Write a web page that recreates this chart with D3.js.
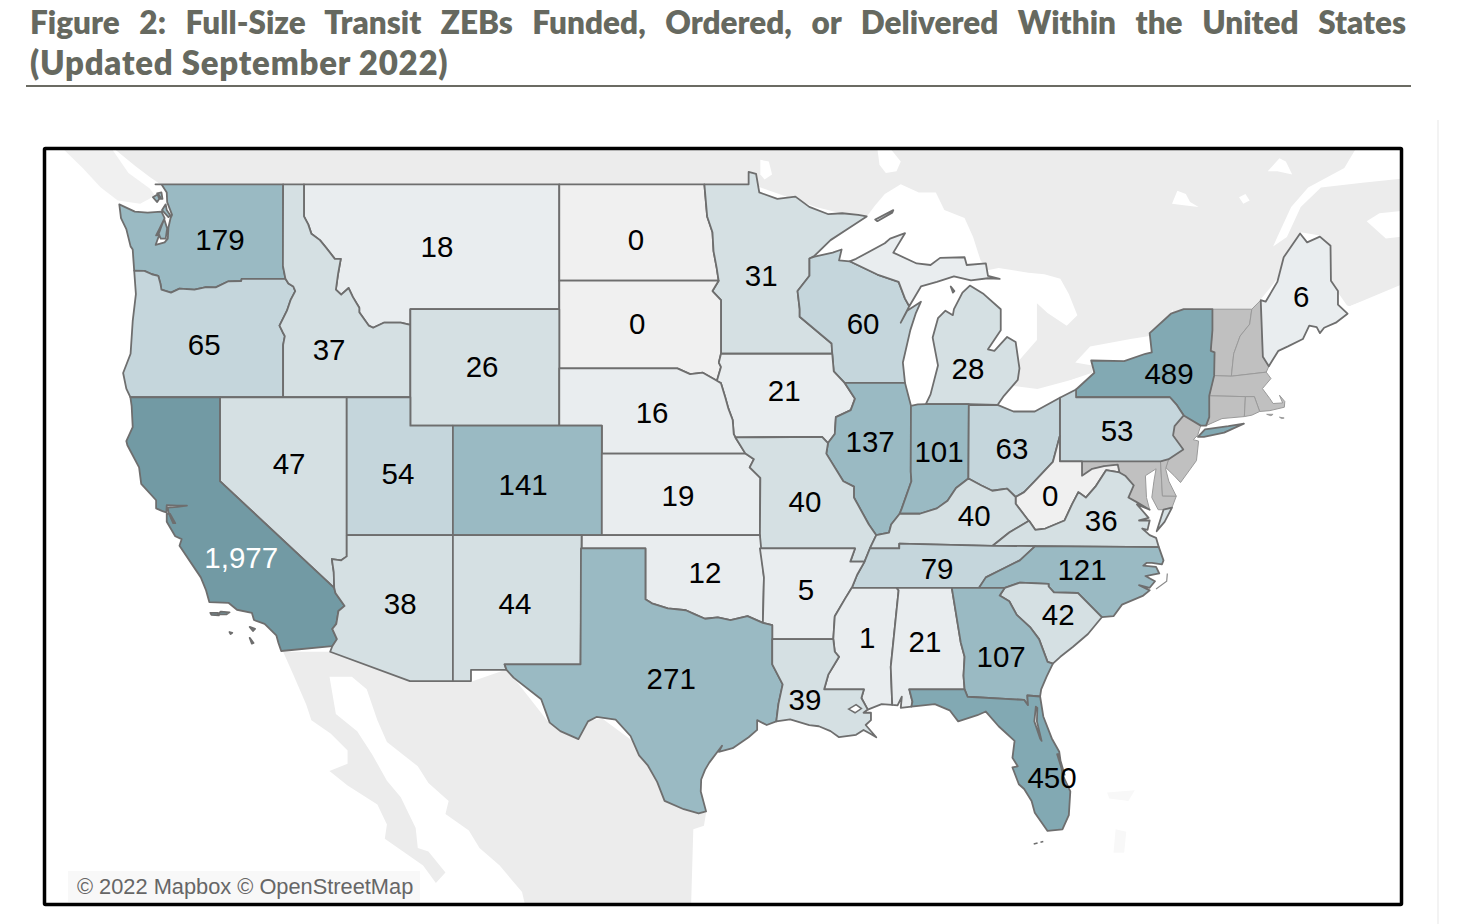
<!DOCTYPE html>
<html><head><meta charset="utf-8">
<script src="https://cdnjs.cloudflare.com/ajax/libs/d3/7.8.5/d3.min.js"></script>
<style>
html,body{margin:0;padding:0;background:#fff;width:1458px;height:924px;overflow:hidden}
#title{position:absolute;left:30px;top:2px;width:1376px;font:800 33px/40px Lato,sans-serif;color:#666960;letter-spacing:.75px}
#title div:first-child{text-align:justify;text-align-last:justify;font-size:31.5px;letter-spacing:0}
svg{position:absolute;left:0;top:0}
</style></head><body>
<div id="title"><div>Figure 2: Full-Size Transit ZEBs Funded, Ordered, or Delivered Within the United States</div><div>(Updated September 2022)</div></div>
<svg id="map" width="1458" height="924"></svg>
<script>
// ---------- values ----------
const stateCodes  = ["WA","MT","ND","MN","WI","ME","OR","ID","SD","WY","MI","NY","IA","NE","PA","IL","IN","OH","NV","UT","CO","KS","WV","MO","KY","VA","CA","OK","TN","NC","AR","AZ","NM","SC","MS","AL","GA","TX","LA","FL"];
const stateValues = [179,18,0,31,60,6,65,37,0,26,28,489,21,16,53,137,101,63,47,54,141,19,0,40,40,36,1977,12,79,121,5,38,44,42,1,21,107,271,39,450];
const labelLon = [-120.0,-109.8,-100.44,-94.56,-89.77,-69.18,-120.74,-114.87,-100.39,-107.68,-84.84,-75.39,-93.48,-99.69,-77.83,-89.44,-86.2,-82.77,-116.75,-111.63,-105.75,-98.47,-80.98,-92.5,-84.55,-78.58,-119.0,-97.2,-86.29,-79.48,-92.45,-111.53,-106.13,-80.6,-89.58,-86.86,-83.28,-98.79,-92.5,-80.89];
const labelLat = [47.28,47.06,47.28,46.12,44.53,45.43,43.8,43.63,44.53,43.08,43.01,42.84,42.24,41.48,40.81,40.45,40.06,40.2,39.66,39.29,38.89,38.49,38.49,38.27,37.72,37.56,36.17,35.57,35.75,35.72,34.92,34.41,34.41,33.95,33.08,32.92,32.32,31.45,30.6,27.4];
const noDataStates = ["VT","NH","MA","CT","RI","NJ","MD","DE"];
const valueBreaks = [1,25,50,100,400,1000];
const valueColors = ["#f0f0f0","#e9edef","#d5e0e3","#c5d6dc","#9abac3","#82a9b3","#729aa4"];
const attribution = "© 2022 Mapbox © OpenStreetMap";

// ---------- shared boundaries, lon/lat ----------
const rev = a => a.slice().reverse();
const columbia=[[-124.03,46.27],[-123.55,46.26],[-123.2,46.15],[-122.9,46.1],[-122.8,45.85],[-122.75,45.65],[-122.3,45.55],[-121.9,45.68],[-121.2,45.65],[-120.65,45.73],[-120.2,45.72],[-119.6,45.92],[-119,45.93],[-118.98,46],[-116.92,46]];
const snake=[[-116.92,46],[-116.78,45.85],[-116.55,45.75],[-116.46,45.6],[-116.67,45.32],[-116.85,44.95],[-117.2,44.45],[-117.05,44.23],[-116.95,44.1],[-117.03,43.8],[-117.03,42]];
const bitterroot=[[-116.05,48],[-115.85,47.75],[-115.7,47.45],[-115.3,47.25],[-115,47],[-114.6,46.65],[-114.32,46.65],[-114.45,46.15],[-114.55,45.65],[-114.3,45.48],[-113.95,45.7],[-113.75,45.4],[-113.45,45.05],[-113.45,44.9],[-113,44.45],[-112.8,44.38],[-112.3,44.55],[-111.5,44.55],[-111.05,44.48]];
const coloradoNV=[[-114.04,36.2],[-114.3,36.05],[-114.74,36.1],[-114.65,35.6],[-114.63,35]];
const coloradoCA=[[-114.63,35],[-114.57,34.8],[-114.14,34.3],[-114.43,34.1],[-114.53,33.6],[-114.72,33.4],[-114.5,33],[-114.72,32.72]];
const redRiver=[[-100,34.56],[-99.7,34.4],[-98.95,34.2],[-98.1,34.13],[-97.7,33.98],[-97.2,33.8],[-96.6,33.85],[-96,33.75],[-95.2,33.9],[-94.48,33.64]];
const sabine=[[-94.04,32],[-93.55,31.2],[-93.75,30.4],[-93.85,29.7]];
const ndMN=[[-96.56,45.94],[-96.65,46.35],[-96.8,46.9],[-96.85,47.5],[-97.1,48],[-97.23,49]];
const sdMN=[[-96.45,43.5],[-96.45,45.3],[-96.85,45.6],[-96.56,45.94]];
const sdIA=[[-96.45,42.49],[-96.65,42.55],[-96.45,43.05],[-96.55,43.2],[-96.45,43.5]];
const sdNE=[[-104.05,43],[-98.5,43],[-97.9,42.8],[-97.3,42.85],[-96.7,42.6],[-96.45,42.49]];
const neIA=[[-96.45,42.49],[-96.25,42],[-96.1,41.6],[-95.9,41.2],[-95.85,40.7],[-95.77,40.58]];
const neMO=[[-95.77,40.58],[-95.3,40]];
const ksMO=[[-95.3,40],[-94.9,39.8],[-95.1,39.5],[-94.6,39.12],[-94.62,37]];
const stCroix=[[-92.29,46.66],[-92.29,46.1],[-92.85,45.6],[-92.75,45],[-92.75,44.75],[-91.25,43.85],[-91.22,43.5]];
const iaWI=[[-91.22,43.5],[-91.15,42.9],[-90.64,42.5]];
const iaIL=[[-90.64,42.5],[-90.15,41.95],[-90.35,41.55],[-91.05,41.3],[-91.1,40.7],[-91.42,40.38]];
const moIL=[[-91.42,40.38],[-91.5,40],[-90.7,39],[-90.2,38.8],[-90.2,38.4],[-89.5,37.4],[-89.15,37]];
const kyMO=[[-89.15,37],[-89.45,36.5]];
const tnMO=[[-89.45,36.5],[-89.7,36]];
const tnAR=[[-89.7,36],[-90.05,35.5],[-90.3,35]];
const msAR=[[-90.3,35],[-90.6,34.6],[-91.1,33.9],[-91.17,33]];
const msLA=[[-91.17,33],[-91.1,32.5],[-90.9,32.3],[-91.4,31.6],[-91.6,31]];
const ilKY=[[-89.15,37],[-88.55,37.1],[-88.45,37.4],[-88.05,37.8]];
const inKY=[[-88.05,37.8],[-87.1,37.8],[-86.3,38],[-85.8,38.28],[-85.4,38.75],[-84.82,39.1]];
const ohKY=[[-84.82,39.1],[-84.23,38.85],[-83.7,38.65],[-83,38.73],[-82.6,38.42]];
const ohWV=[[-82.6,38.42],[-82.2,38.6],[-81.7,39],[-80.85,39.7],[-80.52,40.64]];
const wabash=[[-88.05,37.8],[-87.95,38],[-87.5,39],[-87.53,39.35],[-87.52,41.7]];
const wiMI=[[-90.4,46.57],[-89.1,46.14],[-88.1,45.9],[-87.8,45.35],[-87.6,45.1]];
const kyVA=[[-81.97,37.54],[-82.9,37.1],[-83.68,36.6]];
const kyWV=[[-82.6,38.42],[-82.6,38.17],[-82,37.55],[-81.97,37.54]];
const wvVA=[[-81.97,37.54],[-81.68,37.2],[-81.2,37.25],[-80.3,37.55],[-79.95,38.15],[-79.65,38.6],[-79.3,38.4],[-78.85,38.8],[-78.35,39.4],[-77.72,39.32]];
const wvMD=[[-79.48,39.72],[-79.48,39.2],[-79,39.45],[-78.45,39.55],[-77.8,39.6],[-77.72,39.32]];
const vaMD=[[-77.72,39.32],[-77.45,39.2],[-77.05,38.85],[-77.3,38.4],[-76.95,38.25],[-76.3,37.95]];
const tnNC=[[-84.32,35],[-84,35.4],[-83.1,35.77],[-82.4,36.05],[-81.68,36.59]];
const tnKY=[[-83.68,36.6],[-88.07,36.68],[-88.07,36.5],[-89.45,36.5]];
const ncSC=[[-83.11,35],[-82.4,35.2],[-81.05,35.15],[-81.05,35.05],[-80.8,34.82],[-79.68,34.8],[-78.55,33.86]];
const savannah=[[-83.11,35],[-83.35,34.7],[-82.9,34.48],[-82.55,33.95],[-81.9,33.45],[-81.5,33],[-81.1,32.1],[-80.85,32.03]];
const alGA=[[-85.6,35],[-85.18,32.87],[-85,32.3],[-85.05,31.55],[-85,31]];
const gaFL=[[-85,31],[-84.86,30.7],[-82.2,30.57],[-82.02,30.36],[-82.05,30.75],[-81.45,30.71]];
const paNY=[[-79.76,42],[-75.35,42],[-75.05,41.75],[-74.7,41.36]];
const paNJ=[[-74.7,41.36],[-75.13,40.98],[-75.2,40.65],[-74.72,40.15],[-75.41,39.8]];
const nyNE=[[-73.35,45],[-73.35,44.3],[-73.43,43.6],[-73.25,43.55],[-73.27,42.75],[-73.5,42.05],[-73.5,41.3],[-73.65,41]];
const vtNH=[[-71.5,45],[-71.6,44.5],[-72.05,44.1],[-72.35,43.5],[-72.46,42.73]];

// ---------- state outlines (rings of lon/lat) ----------
const outlines={
WA:[[[-123.03,49],[-117.03,49],[-117.04,46.42],[-116.92,46],...rev(columbia),[-124.07,46.65],[-124.1,46.95],[-124.2,47.05],[-124.4,47.6],[-124.65,47.95],[-124.73,48.38],[-124,48.15],[-123.4,48.12],[-122.75,48.15],[-122.6,47.95],[-122.85,47.6],[-123,47.4],[-122.85,47.42],[-123.02,47.1],[-122.6,47.18],[-122.45,47.3],[-122.42,47.65],[-122.32,47.95],[-122.25,48.05],[-122.48,48.45],[-122.5,48.75],[-122.75,49]],
 [[-122.62,47.92],[-122.8,47.6],[-122.88,47.45],[-122.78,47.3],[-122.55,47.3],[-122.48,47.62]],
 [[-122.55,48.38],[-122.72,48.2],[-122.42,47.98],[-122.33,48.03],[-122.5,48.2]],
 [[-123.15,48.6],[-122.9,48.7],[-122.8,48.6],[-122.95,48.45]],
 [[-122.95,48.72],[-122.75,48.75],[-122.7,48.55],[-122.85,48.55]]],
OR:[[...columbia,...snake,[-124.21,42],[-124.4,42.3],[-124.55,42.84],[-124.2,43.5],[-124.1,44.6],[-123.95,45.5]]],
CA:[[[-124.21,42],[-120,42],[-120,39],...coloradoCA,[-117.12,32.53],[-117.25,32.85],[-117.35,33.15],[-117.9,33.6],[-118.4,33.75],[-118.5,34.03],[-119.2,34.15],[-119.6,34.42],[-120.5,34.45],[-120.65,34.9],[-120.9,35.4],[-121.9,36.6],[-121.8,36.85],[-122.1,36.96],[-122.5,37.5],[-122.5,37.8],[-122.35,37.8],[-122.1,37.45],[-122.2,37.45],[-122.42,37.85],[-122.45,38.03],[-122,38.06],[-121.55,38.1],[-122,38.1],[-122.5,38.12],[-122.52,37.85],[-122.7,37.9],[-123,38],[-123,38.3],[-123.7,38.9],[-123.8,39.5],[-124.35,40.3],[-124.4,40.45],[-124.1,40.95],[-124.15,41.7]],
 [[-119.95,34.08],[-119.55,34.05],[-119.7,33.97],[-120.1,33.98]],
 [[-120.45,34.03],[-120.1,34.03],[-120.05,33.93],[-120.4,33.95]],
 [[-118.6,33.48],[-118.35,33.4],[-118.45,33.32]],
 [[-118.6,33.05],[-118.42,32.85],[-118.5,32.82]],
 [[-119.55,33.28],[-119.42,33.25],[-119.5,33.2]]],
NV:[[[-120,42],[-114.04,42],...coloradoNV,[-120,39]]],
ID:[[[-117.03,49],[-116.05,49],...bitterroot,[-111.05,42],...rev(snake),[-117.04,46.42]]],
MT:[[[-116.05,49],[-104.05,49],[-104.05,45],[-111.05,45],...rev(bitterroot)]],
WY:[[[-111.05,45],[-104.05,45],[-104.05,41],[-111.05,41]]],
UT:[[[-114.04,42],[-111.05,42],[-111.05,41],[-109.05,41],[-109.05,37],[-114.04,37]]],
CO:[[[-109.05,41],[-102.05,41],[-102.05,37],[-109.05,37]]],
AZ:[[[-114.04,37],[-109.05,37],[-109.05,31.33],[-111.07,31.33],[-114.82,32.5],[-114.72,32.72],...rev(coloradoCA),...rev(coloradoNV)]],
NM:[[[-109.05,37],[-103,37],[-103.05,32],[-106.62,32],[-106.53,31.78],[-108.2,31.78],[-108.2,31.33],[-109.05,31.33]]],
ND:[[[-104.05,49],[-97.23,49],...rev(ndMN),[-104.05,45.94]]],
SD:[[[-104.05,45.94],[-96.56,45.94],...rev(sdMN),...rev(sdIA),...rev(sdNE)]],
NE:[[...sdNE,...neIA,...neMO,[-102.05,40],[-102.05,41],[-104.05,41]]],
KS:[[[-102.05,40],...ksMO,[-102.05,37]]],
OK:[[[-103,37],[-94.62,37],[-94.43,35.4],[-94.48,33.64],...rev(redRiver),[-100,36.5],[-103,36.5]]],
TX:[[[-103.03,36.5],[-100,36.5],...redRiver,[-94.04,33.55],[-94.04,33],...sabine,[-94.3,29.55],[-94.75,29.75],[-94.75,29.35],[-95.15,29.05],[-95.9,28.6],[-96.55,28.45],[-96.4,28.7],[-97,28],[-97.2,27.7],[-97.38,27.3],[-97.4,26.8],[-97.15,25.96],[-97.5,25.87],[-98.2,26.05],[-99.1,26.4],[-99.45,27.2],[-99.9,27.9],[-100.3,28.3],[-100.7,29.1],[-101.4,29.77],[-102.3,29.88],[-102.7,29.7],[-103.15,28.97],[-104,29.3],[-104.5,29.65],[-104.9,30.6],[-106.2,31.47],[-106.53,31.78],[-106.62,32],[-103.05,32]]],
MN:[[[-97.23,49],[-95.15,49],[-95.15,49.38],[-94.8,49.32],[-94.65,48.75],[-93.8,48.55],[-92.95,48.62],[-92.3,48.3],[-91.4,48.07],[-90.75,48.1],[-90,48.05],[-89.6,48],[-90.5,47.6],[-91.3,47.25],[-92.05,46.75],[-92.29,46.66],...stCroix.slice(1),[-96.45,43.5],...sdMN,...ndMN]],
WI:[[[-92.29,46.66],[-92.05,46.72],[-91.2,46.85],[-90.78,46.95],[-90.9,46.6],...wiMI,[-88,44.55],[-87.7,44.95],[-87.05,45.25],[-87.3,44.85],[-87.55,44.3],[-87.9,43.2],[-87.8,42.5],...rev(iaWI),...rev(stCroix)]],
IA:[[[-96.45,43.5],[-91.22,43.5],...iaWI.slice(1),...iaIL.slice(1),[-91.7,40.6],[-95.77,40.58],...rev(neIA).slice(1),...sdIA.slice(1,4)]],
MO:[[...neMO,...ksMO,[-94.62,36.5],[-90.15,36.5],[-90.37,36],[-89.7,36],...rev(tnMO).slice(1),...rev(kyMO).slice(1),...rev(moIL).slice(1),[-91.7,40.6]]],
AR:[[[-94.62,36.5],[-90.15,36.5],[-90.37,36],...tnAR,...msAR.slice(1),[-94.04,33],[-94.04,33.55],[-94.48,33.64],[-94.43,35.4]]],
LA:[[[-94.04,33],...msLA,[-89.73,31],[-89.85,30.65],[-89.55,30.18],[-89.75,30.05],[-89.4,30.05],[-89.4,29.75],[-89.65,29.55],[-89.15,29.05],[-89.45,29.2],[-89.75,29.35],[-90.1,29.15],[-90.9,29.05],[-91.3,29.3],[-91.85,29.5],[-92.3,29.55],[-93.2,29.78],[-93.85,29.7],...rev(sabine)]],
MS:[[...tnAR.slice(2),[-88.2,35],[-88.1,34.9],[-88.47,31.9],[-88.4,30.37],[-88.9,30.4],[-89.55,30.18],[-89.85,30.65],[-89.73,31],[-91.6,31],...rev(msLA).slice(1),...rev(msAR).slice(1)]],
AL:[[[-88.2,35],...alGA,[-87.6,31],[-87.45,30.5],[-87.5,30.3],[-88,30.25],[-87.95,30.7],[-88.15,30.35],[-88.4,30.37],[-88.47,31.9],[-88.1,34.9]]],
GA:[[...alGA,...gaFL,[-81.4,31],[-81.15,31.5],[-80.85,32.03],...rev(savannah).slice(1)]],
FL:[[[-87.6,31],...gaFL,[-81.3,29.9],[-80.9,29],[-80.55,28.45],[-80.4,27.5],[-80.03,26.8],[-80.1,25.8],[-80.4,25.2],[-81.1,25.13],[-81.7,25.9],[-81.85,26.4],[-82.2,26.9],[-82.45,27.1],[-82.75,27.8],[-82.5,27.85],[-82.75,28.2],[-82.65,28.9],[-83.4,29.5],[-84,30.1],[-84.4,29.95],[-85.3,29.7],[-85.7,30.15],[-86.4,30.4],[-87.5,30.3],[-87.45,30.5]],
 [[-81.65,30.3],[-81.72,29.7],[-81.45,29],[-81.38,28.9],[-81.6,29.7],[-81.58,30.25]],
 [[-80.65,28.35],[-80.35,27.5],[-80.3,27.5],[-80.58,28.35]]],
IL:[[[-90.64,42.5],[-87.8,42.5],[-87.52,41.7],...rev(wabash).slice(1),...rev(ilKY).slice(1),...rev(moIL).slice(1),...rev(iaIL).slice(1)]],
IN:[[[-87.52,41.7],[-87.2,41.75],[-86.82,41.76],[-84.8,41.76],...rev(inKY),...wabash.slice(1)]],
OH:[[[-84.8,41.72],[-83.45,41.73],[-82.7,41.5],[-81.7,41.5],[-80.52,41.98],...rev(ohWV),...rev(ohKY)]],
KY:[[...ilKY,...inKY.slice(1),...ohKY.slice(1),...kyWV.slice(1),...kyVA.slice(1),...tnKY.slice(1)]],
WV:[[...wvMD,...rev(wvVA).slice(1),...rev(kyWV).slice(1),...ohWV.slice(1),[-80.52,39.72]]],
TN:[[...tnNC,[-83.68,36.6],...tnKY.slice(1),...tnMO.slice(1),...tnAR.slice(1),[-88.2,35]]],
NC:[[...tnNC,[-75.87,36.55],[-75.65,36.05],[-75.72,35.9],[-76.2,35.95],[-76.45,35.95],[-76.6,35.85],[-76,35.8],[-75.85,35.55],[-76.5,35.45],[-76.05,35.25],[-76.3,35],[-76.8,35.1],[-76.3,34.9],[-76.6,34.7],[-77.6,34.35],[-78,33.9],...rev(ncSC)]],
SC:[[...ncSC,[-79.2,33.2],[-79.9,32.7],[-80.5,32.3],...rev(savannah)]],
VA:[[...kyVA,[-81.68,36.59],[-75.87,36.55],[-76,36.9],[-76.3,37],[-76.65,37.25],[-76.4,37.2],[-76.3,37.55],[-76.8,37.55],[-76.35,37.65],[-76.9,38.15],[-76.3,37.95],...rev(vaMD).slice(1),...rev(wvVA).slice(1)],
 [[-75.97,37.15],[-75.65,37.95],[-75.25,38.03],[-75.6,37.5]]],
PA:[[[-80.52,41.98],[-79.76,42.27],...paNY,...paNJ.slice(1),[-75.79,39.72],[-80.52,39.72]]],
NY:[[...rev(paNY),[-79.76,42.27],[-78.9,42.85],[-79.05,43.27],[-77.5,43.25],[-76.5,43.5],[-76.2,43.55],[-76.3,44.2],[-75.3,44.85],[-74.7,45],...nyNE,[-73.9,41]],
 [[-74.03,40.6],[-73.75,40.6],[-72.8,40.75],[-71.87,41.07],[-72.6,40.98],[-73.7,40.87]]],
ME:[[[-71.08,45.3],[-70.85,45.25],[-70.3,45.9],[-70,46.7],[-69.23,47.46],[-68.9,47.18],[-68.3,47.36],[-67.8,47.07],[-67.78,45.94],[-67.45,45.6],[-67.45,45.15],[-67,44.85],[-67.55,44.55],[-68.1,44.38],[-68.3,44.2],[-68.45,44.4],[-68.8,44.45],[-69.1,44],[-69.8,43.75],[-70.25,43.6],[-70.55,43.25],[-70.7,43.07],[-70.98,43.4]]],
MI:[[[-86.82,41.76],[-84.8,41.76],[-83.45,41.73],[-83.15,42.05],[-82.5,42.6],[-82.42,43],[-82.6,43.9],[-83,44.07],[-83.6,43.6],[-83.9,43.65],[-83.3,44.3],[-83.3,45],[-84.1,45.5],[-84.75,45.78],[-85.1,45.55],[-85.5,45],[-85.55,44.8],[-85.9,44.95],[-86.25,44.7],[-86.5,44.05],[-86.25,43.1],[-86.6,42.1]],
 [[-85.65,45.75],[-85.48,45.6],[-85.55,45.55]]],
VT:[[[-73.35,45],...vtNH,[-73.27,42.75],[-73.25,43.55],[-73.43,43.6],[-73.35,44.3]]],
NH:[[...vtNH,[-70.82,42.87],[-70.7,43.07],[-70.98,43.4],[-71.08,45.3]]],
MA:[[[-73.5,42.05],[-73.27,42.75],[-72.46,42.73],[-70.82,42.87],[-70.6,42.65],[-71,42.3],[-70.65,41.95],[-70.5,41.78],[-70.05,41.8],[-70.2,42.07],[-69.95,41.85],[-69.97,41.65],[-70.65,41.53],[-71.13,41.5],[-71.38,42.02],[-71.8,42.02]],
 [[-70.8,41.4],[-70.5,41.4],[-70.6,41.35]],
 [[-70.2,41.3],[-69.98,41.27],[-70.1,41.25]]],
CT:[[[-73.5,42.05],[-71.8,42.02],[-71.85,41.32],[-72.9,41.25],[-73.65,41],[-73.5,41.3]]],
RI:[[[-71.8,42.02],[-71.38,42.02],[-71.13,41.5],[-71.5,41.37],[-71.85,41.32]]],
NJ:[[[-74.7,41.36],[-73.9,41],[-74.05,40.65],[-74.25,40.5],[-74,40.45],[-74.1,39.75],[-74.85,38.95],[-75.15,39.2],[-75.55,39.5],[-75.41,39.8],...rev(paNJ).slice(1)]],
MD:[[[-79.48,39.72],[-75.79,39.72],[-75.7,38.46],[-75.05,38.45],[-75.25,38.03],[-75.65,37.95],[-75.9,37.95],[-76.2,38.4],[-76.1,39],[-76,39.45],[-76.5,39.2],[-76.45,38.4],...rev(vaMD),...rev(wvMD).slice(1)]],
DE:[[[-75.79,39.72],[-75.41,39.8],[-75.55,39.45],[-75.4,39],[-75.05,38.45],[-75.7,38.46]]]
};
// Michigan's Upper Peninsula is tinted paler than the rest of the state in the source
const upperPeninsula=[[...wiMI,[-87.05,45.75],[-86.3,45.9],[-85.5,46.08],[-84.7,45.95],[-83.9,46.02],[-83.35,46],[-83.9,46.1],[-84,46.5],[-84.9,46.45],[-85,46.7],[-86.15,46.68],[-86.6,46.45],[-87.25,46.5],[-88.35,46.85],[-87.8,47.47],[-88.5,47.3],[-88.75,47.15],[-90.1,46.65]],[[-89.2,47.9],[-88.35,48.2],[-88.4,48.12],[-89.1,47.85]]];

// ---------- background land and water ----------
const canada=[[-125.2,51],[-124.9,50.05],[-123.95,49.55],[-123.25,49.2],[-122.8,49],[-95,49],[-92,48.3],[-89,47.8],[-84.5,46.4],[-82.5,43],[-83,42],[-79,42.8],[-79,43.3],[-76.3,44],[-74.7,45],[-71.5,45],[-71,45.4],[-70.3,46],[-70,46.7],[-69.2,47.5],[-68.3,47.4],[-67.8,47],[-67.8,45.9],[-67.4,45.2],[-66.9,45.1],[-64.2,45.8],[-64.2,51]];
const vancouverIsland=[[-127.4,50.1],[-126.45,49.5],[-125.6,48.9],[-124.8,48.5],[-123.75,48.4],[-123.05,48.65],[-123.3,48.87],[-124.3,49.35],[-125.1,50.1]];
const novaScotia=[[-64.2,45.2],[-65.8,44.65],[-66.15,44],[-65.55,43.45],[-64.2,44.05]];
const mexico=[[-117.03,32.5],[-116.56,31.6],[-115.95,30.4],[-115.7,29.75],[-114.8,29.2],[-114,28.5],[-114,27.95],[-114.85,27.65],[-114,27.05],[-112.6,26.25],[-112.15,25.4],[-112.25,24.8],[-110.45,23.65],[-109.85,22.9],[-109.4,23.35],[-110.2,24.25],[-110.7,24.4],[-110.8,25.25],[-111.5,26.55],[-112.15,27.25],[-112.85,28.35],[-113.55,29.3],[-114.55,30],[-114.85,31.5],[-113.8,31.5],[-113.1,31],[-112.6,29.75],[-112.15,28.85],[-110.7,27.85],[-110.2,27.15],[-109.25,26.4],[-109.4,25.85],[-108.3,25.15],[-107.8,24.4],[-106.85,23.65],[-105.8,22.5],[-105.65,21.9],[-105.6,21],[-97.8,21],[-97.85,22.05],[-97.75,25.2],[-97.25,25.35],[-97.15,25.9],[-97.5,25.9],[-99,26.4],[-100,28.5],[-102,29.8],[-104.5,29.6],[-106.5,31.8],[-108.2,31.3],[-111,31.3],[-114.8,32.5]];
const waterBodies=[
 [[-92.2,46.6],[-92,46.9],[-90.5,47.6],[-89.6,48],[-89.2,48.35],[-88.75,48.7],[-88,49],[-87.15,48.75],[-86.35,48.75],[-85.95,48.2],[-85,47.95],[-84.6,47.35],[-84.25,46.6],[-83.8,46.2],[-84.5,46.3],[-87,46.3],[-90,46.3]],
 [[-84.5,46.2],[-83.4,46.35],[-82,46.2],[-81.25,46.15],[-80.5,46],[-80.1,45.5],[-79.7,44.8],[-80.2,44.45],[-81.1,44.87],[-81.6,45.2],[-81.6,43.97],[-82.4,43.3],[-82.4,42.85],[-83,43],[-85,45.8]],
 [[-83.5,41.7],[-82.8,42.4],[-81.2,42.25],[-79.8,42.65],[-79,42.85],[-78.9,42.7],[-80.5,41.7],[-82.5,41.3]],
 [[-79.8,43.2],[-79.1,43.75],[-77.2,44],[-76.3,44.1],[-76,44.25],[-75.2,45],[-75.3,44.7],[-76.3,43.5],[-79,43.1]],
 [[-70.5,47.05],[-69.85,47.35],[-69.2,48.3],[-68.25,48.9],[-66.3,49.05],[-64,49.2],[-64,50.2],[-66.6,50.1],[-67.15,49.5],[-68.85,48.9],[-69.65,48.3],[-70.3,47.35]],
 [[-66.1,47.85],[-65.5,48.1],[-64,48.2],[-64,47.4],[-65.2,47.3]],
 [[-67.9,46],[-67,45.1],[-66.9,45.1],[-64,45.95],[-64,43],[-67,43]],
 [[-89.1,50.1],[-88.5,50.1],[-88,49.7],[-88.2,49.4],[-88.7,49.35],[-89,49.6]],
 [[-75.25,48.4],[-75,48.8],[-74.6,48.7],[-74.4,48.45],[-74,48.3],[-74.7,48.35]],
 [[-72.1,48.6],[-71.8,48.7],[-71.6,48.5],[-71.9,48.4]],
 [[-70.75,49.4],[-70.2,49.8],[-69.9,49.7],[-69.6,49.3],[-70.3,49.4]],
 [[-94.6,49.75],[-94.2,49.7],[-94.05,49.3],[-94.4,49.15],[-94.6,49.3]]];

// ---------- projection (Web Mercator, as the source basemap) ----------
const projection=d3.geoMercator().scale(1219).center([0,0]).translate([2773,1383.6]);
const planar=d3.geoTransform({point(x,y){const p=projection([x,y]);this.stream.point(p[0],p[1]);}});
const path=d3.geoPath(planar);
const closed=r=>{const a=r.slice();const f=a[0],l=a[a.length-1];if(f[0]!==l[0]||f[1]!==l[1])a.push(f);return a;};
const asGeo=rings=>({type:"MultiPolygon",coordinates:rings.map(r=>[closed(r)])});

const color=d3.scaleThreshold().domain(valueBreaks).range(valueColors);
const valueByState=new Map(stateCodes.map((c,i)=>[c,stateValues[i]]));
const svg=d3.select("#map");

// heading rule and neighbouring page edge
svg.append("line").attr("x1",26).attr("x2",1411).attr("y1",86).attr("y2",86).attr("stroke","#6b6b63").attr("stroke-width",1.8);
svg.append("line").attr("x1",1438).attr("x2",1438).attr("y1",120).attr("y2",924).attr("stroke","#efefef").attr("stroke-width",1.5);

svg.append("clipPath").attr("id","frameClip").append("rect").attr("x",45).attr("y",149).attr("width",1356).attr("height",755);
const map=svg.append("g").attr("clip-path","url(#frameClip)");
map.append("rect").attr("x",45).attr("y",149).attr("width",1356).attr("height",755).attr("fill","#fff");

map.selectAll("path.land").data([canada,mexico,novaScotia]).join("path").attr("class","land")
  .attr("d",r=>path(asGeo([r]))).attr("fill","#ececec");
map.append("path").attr("d",path(asGeo([vancouverIsland]))).attr("fill","#f0f0f0");
map.selectAll("path.water").data(waterBodies).join("path").attr("class","water")
  .attr("d",r=>path(asGeo([r]))).attr("fill","#fff");
// Bahamas and Cuba, barely visible in the source
map.selectAll("path.faint").data([[[-78.3,26.75],[-77,26.85],[-77.3,26.4],[-78.2,26.5]],[[-77.9,25.2],[-77.4,25.1],[-77.5,24.2],[-78,24.2]]]).join("path").attr("class","faint")
  .attr("d",r=>path(asGeo([r]))).attr("fill","#f8f8f8");

const stateKeys=[...noDataStates,...stateCodes];
map.selectAll("path.state").data(stateKeys).join("path").attr("class","state")
  .attr("d",k=>path(asGeo(outlines[k])))
  .attr("fill",k=>valueByState.has(k)?color(valueByState.get(k)):"#c0c0c0")
  .attr("stroke",k=>valueByState.has(k)?"#6e6e6e":"#9a9a9a")
  .attr("stroke-width",k=>valueByState.has(k)?1.8:1)
  .attr("stroke-linejoin","round");
map.append("path").attr("d",path(asGeo(upperPeninsula))).attr("fill","#e9edef").attr("stroke","#6e6e6e").attr("stroke-width",1.8).attr("stroke-linejoin","round");
// Lake Pontchartrain, the Keys and the Outer Banks
map.append("path").attr("d",path(asGeo([[[-90.45,30.2],[-90.1,30.38],[-89.85,30.22],[-90.15,30.05]]]))).attr("fill","#fff").attr("stroke","#6e6e6e").attr("stroke-width",1.5);
map.append("path").attr("d",path({type:"LineString",coordinates:[[-81.75,24.57],[-81.3,24.68]]})).attr("fill","none").attr("stroke","#6e6e6e").attr("stroke-width",1.5).attr("stroke-dasharray","4 3");
map.append("path").attr("d",path({type:"LineString",coordinates:[[-75.47,35.55],[-75.5,35.25],[-76,34.95]]})).attr("fill","none").attr("stroke","#8a8a8a").attr("stroke-width",1.2);

// value labels
const fmt=d3.format(",");
map.selectAll("text.value").data(stateCodes).join("text").attr("class","value")
  .attr("x",(c,i)=>projection([labelLon[i],labelLat[i]])[0])
  .attr("y",(c,i)=>projection([labelLon[i],labelLat[i]])[1])
  .attr("text-anchor","middle").attr("dominant-baseline","central")
  .attr("font-family","'Liberation Sans',Arial,sans-serif").attr("font-size",29.5)
  .attr("fill",(c,i)=>stateValues[i]>1000?"#fff":"#000")
  .text((c,i)=>fmt(stateValues[i]));

// attribution
map.append("rect").attr("x",68).attr("y",871).attr("width",352).attr("height",31).attr("fill","#f8f8f8");
map.append("text").attr("x",77).attr("y",886).attr("dominant-baseline","central")
  .attr("font-family","'Liberation Sans',Arial,sans-serif").attr("font-size",21.8).attr("fill","#666").text(attribution);

// frame
svg.append("rect").attr("x",44.5).attr("y",148.5).attr("width",1357).attr("height",756).attr("fill","none").attr("stroke","#000").attr("stroke-width",3.5).attr("rx",1);
</script>
</body></html>
